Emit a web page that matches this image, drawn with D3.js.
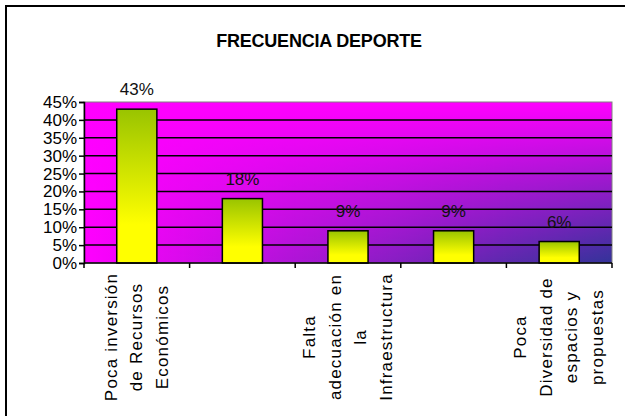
<!DOCTYPE html>
<html>
<head>
<meta charset="utf-8">
<script src="https://cdn.jsdelivr.net/npm/d3@7"></script>
<style>
  body { margin: 0; background: #fff; }
  svg { display: block; font-family: Arial, "Liberation Sans", sans-serif; }
</style>
</head>
<body>
<svg id="chart" width="625" height="416"></svg>
<script>
var categories = [
    ["Poca inversión", "de Recursos", "Económicos"],
    [],
    ["Falta", "adecuación en", "la", "Infraestructura"],
    [],
    ["Poca", "Diversidad de", "espacios y", "propuestas"]
]
var values = [0.43, 0.18, 0.09, 0.09, 0.06]
var valueLabels = ["43%", "18%", "9%", "9%", "6%"]
var yTicks = [0, 0.05, 0.10, 0.15, 0.20, 0.25, 0.30, 0.35, 0.40, 0.45]

var svg = d3.select("#chart")
var plotLeft = 84, plotRight = 612, plotTop = 102, plotBottom = 263

var defs = svg.append("defs")

// bar fill: green on top, yellow at the base
var barGrad = defs.append("linearGradient").attr("id", "barGrad")
    .attr("x1", 0).attr("y1", 0).attr("x2", 0).attr("y2", 1)
barGrad.append("stop").attr("offset", "0").attr("stop-color", "#99c400")
barGrad.append("stop").attr("offset", "0.75").attr("stop-color", "#ffff00")
barGrad.append("stop").attr("offset", "1").attr("stop-color", "#ffff00")

// magenta fading out left->right and top->bottom over a blue base
var hGrad = defs.append("linearGradient").attr("id", "hGrad")
    .attr("x1", 0).attr("y1", 0).attr("x2", 1).attr("y2", 0)
hGrad.append("stop").attr("offset", "0").attr("stop-color", "#ff00ff").attr("stop-opacity", 1)
hGrad.append("stop").attr("offset", "1").attr("stop-color", "#ff00ff").attr("stop-opacity", 0)
var vGrad = defs.append("linearGradient").attr("id", "vGrad")
    .attr("x1", 0).attr("y1", 0).attr("x2", 0).attr("y2", 1)
vGrad.append("stop").attr("offset", "0").attr("stop-color", "#ff00ff").attr("stop-opacity", 1)
vGrad.append("stop").attr("offset", "1").attr("stop-color", "#ff00ff").attr("stop-opacity", 0)

// outer frame
svg.append("rect")
    .attr("x", 6).attr("y", 6).attr("width", 640).attr("height", 430)
    .attr("fill", "#fff").attr("stroke", "#000").attr("stroke-width", 2)

svg.append("text")
    .attr("x", 319).attr("y", 47)
    .attr("text-anchor", "middle")
    .attr("font-size", "18px").attr("font-weight", "bold")
    .attr("letter-spacing", "-0.2px")
    .text("FRECUENCIA DEPORTE")

var xScale = d3.scaleBand().domain(d3.range(categories.length)).range([plotLeft, plotRight]).padding(0)
var yScale = d3.scaleLinear().domain([0, 0.45]).range([plotBottom, plotTop])

var plotW = plotRight - plotLeft, plotH = plotBottom - plotTop
svg.append("rect").attr("x", plotLeft).attr("y", plotTop).attr("width", plotW).attr("height", plotH)
    .attr("fill", "#333399")
svg.append("rect").attr("x", plotLeft).attr("y", plotTop).attr("width", plotW).attr("height", plotH)
    .attr("fill", "url(#hGrad)")
svg.append("rect").attr("x", plotLeft).attr("y", plotTop).attr("width", plotW).attr("height", plotH)
    .attr("fill", "url(#vGrad)")
svg.append("rect").attr("x", plotLeft).attr("y", plotTop).attr("width", plotW).attr("height", plotH)
    .attr("fill", "none").attr("stroke", "#808080").attr("stroke-width", 1)

// gridlines
svg.append("g").selectAll("line")
    .data(yTicks.filter(function (d) { return d > 0 && d < 0.45; }))
    .enter().append("line")
    .attr("x1", plotLeft).attr("x2", plotRight)
    .attr("y1", function (d) { return yScale(d); })
    .attr("y2", function (d) { return yScale(d); })
    .attr("stroke", "#000").attr("stroke-width", 1.5)

// bars
var barW = xScale.bandwidth() * 0.38
svg.append("g").selectAll("rect")
    .data(values)
    .enter().append("rect")
    .attr("x", function (d, i) { return xScale(i) + (xScale.bandwidth() - barW) / 2; })
    .attr("y", function (d) { return yScale(d); })
    .attr("width", barW)
    .attr("height", function (d) { return plotBottom - yScale(d); })
    .attr("fill", "url(#barGrad)")
    .attr("stroke", "#000").attr("stroke-width", 1.5)

svg.append("g").selectAll("text")
    .data(values)
    .enter().append("text")
    .attr("x", function (d, i) { return xScale(i) + xScale.bandwidth() / 2; })
    .attr("y", function (d) { return yScale(d) - 14; })
    .attr("text-anchor", "middle")
    .attr("font-size", "17px").attr("fill", "#111")
    .text(function (d, i) { return valueLabels[i]; })

// y axis
var yAxis = svg.append("g")
    .attr("transform", "translate(" + plotLeft + ",0)")
    .call(d3.axisLeft(yScale).tickValues(yTicks).tickSize(5).tickPadding(2)
        .tickFormat(function (d) { return Math.round(d * 100) + "%"; }))
yAxis.selectAll("text").attr("font-size", "17px").attr("fill", "#000")
    .attr("font-family", "Arial, 'Liberation Sans', sans-serif")
yAxis.selectAll("line, path").attr("stroke", "#000").attr("stroke-width", 1.5)

// x axis with ticks at the category boundaries
var bounds = d3.range(categories.length + 1).map(function (i) { return plotLeft + i * xScale.step(); })
svg.append("line").attr("x1", plotLeft).attr("x2", plotRight).attr("y1", plotBottom).attr("y2", plotBottom)
    .attr("stroke", "#000").attr("stroke-width", 1.5)
svg.append("g").selectAll("line")
    .data(bounds)
    .enter().append("line")
    .attr("x1", function (d) { return d; }).attr("x2", function (d) { return d; })
    .attr("y1", plotBottom).attr("y2", plotBottom + 5)
    .attr("stroke", "#000").attr("stroke-width", 1.5)

// rotated category labels, lines centred on each other
var lineGap = 25.5, labelMid = 337
categories.forEach(function (lines, i) {
    var cx = xScale(i) + xScale.bandwidth() / 2
    var g = svg.append("g")
    lines.forEach(function (t, j) {
        var lx = cx + (j - (lines.length - 1) / 2) * lineGap
        g.append("text")
            .attr("transform", "translate(" + lx + "," + labelMid + ") rotate(-90)")
            .attr("text-anchor", "middle")
            .attr("dominant-baseline", "central")
            .attr("font-size", "17px")
            .attr("letter-spacing", "1.2px")
            .text(t)
    })
})
</script>
</body>
</html>
